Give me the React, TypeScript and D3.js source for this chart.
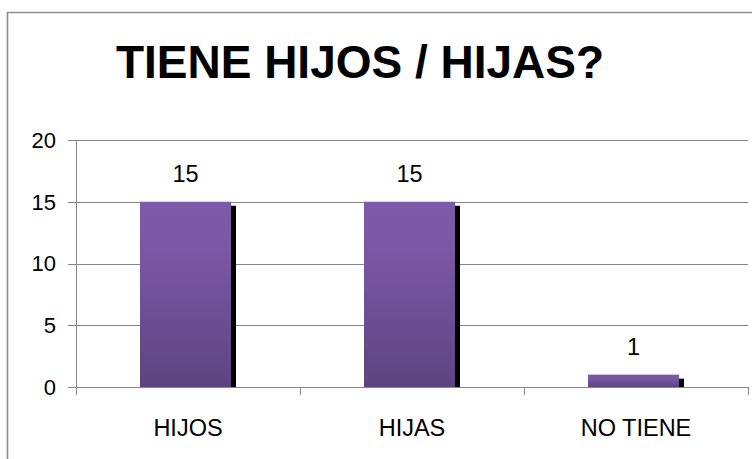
import React from "react";
import * as d3 from "d3";

const categories = ["HIJOS", "HIJAS", "NO TIENE"];
const values = [15, 15, 1];
const yTicks = [0, 5, 10, 15, 20];
const title = "TIENE HIJOS / HIJAS?";

export default function App() {
  const W = 752;
  const H = 459;
  const left = 76;
  const right = 748;
  const top = 140;
  const bottom = 387;

  const x = d3.scaleBand<string>().domain(categories).range([left, right]).paddingInner(0).paddingOuter(0);
  const y = d3.scaleLinear().domain([0, 20]).range([bottom, top]);

  const barW = 91;
  const shadowW = 5;
  const font = "'Liberation Sans', Arial, sans-serif";
  const grid = "#878787";

  const boundaries = [...categories.map((c) => x(c) as number), right];

  return (
    <svg
      width={W}
      height={H}
      style={{ position: "absolute", left: 0, top: 0, background: "#fff" }}
      fontFamily={font}
    >
      <defs>
        <linearGradient id="barGrad" x1="0" y1="0" x2="0" y2="1">
          <stop offset="0" stopColor="#7D5AA8" />
          <stop offset="0.25" stopColor="#7B58A5" />
          <stop offset="1" stopColor="#5D4480" />
        </linearGradient>
      </defs>
      {/* frame */}
      <path d={`M7.5,${H + 5} V12.5 H${W + 5}`} fill="none" stroke="#8c8c8c" strokeWidth={1.6} />

      <text x={360} y={78} textAnchor="middle" fontSize={46} fontWeight="bold" fill="#000">
        {title}
      </text>

      {/* gridlines */}
      {yTicks.map((t) => (
        <g key={t}>
          <line x1={68} x2={right} y1={Math.round(y(t)) + 0.5} y2={Math.round(y(t)) + 0.5} stroke={grid} strokeWidth={1} />
          <text x={56} y={y(t)} dy="0.36em" textAnchor="end" fontSize={22} fill="#000">
            {t}
          </text>
        </g>
      ))}
      {/* y axis */}
      <line x1={left + 0.5} x2={left + 0.5} y1={top} y2={bottom + 8} stroke={grid} strokeWidth={1} />
      {/* category ticks */}
      {boundaries.map((b, i) => (
        <line key={i} x1={b + 0.5} x2={b + 0.5} y1={bottom} y2={bottom + 8} stroke={grid} strokeWidth={1} />
      ))}

      {/* bars */}
      {categories.map((c, i) => {
        const cx = (x(c) as number) + x.bandwidth() / 2;
        const bx = cx - (barW + shadowW) / 2;
        const by = y(values[i]);
        return (
          <g key={c}>
            <rect x={bx + barW} y={by + 4} width={shadowW} height={bottom - by - 4} fill="#000" />
            <rect x={bx} y={by} width={barW} height={bottom - by} fill="url(#barGrad)" />
            <text x={bx + barW / 2} y={by - 20} textAnchor="middle" fontSize={23.5} fill="#000">
              {values[i]}
            </text>
            <text x={cx} y={436} textAnchor="middle" fontSize={23.5} fill="#000">
              {c}
            </text>
          </g>
        );
      })}
    </svg>
  );
}
